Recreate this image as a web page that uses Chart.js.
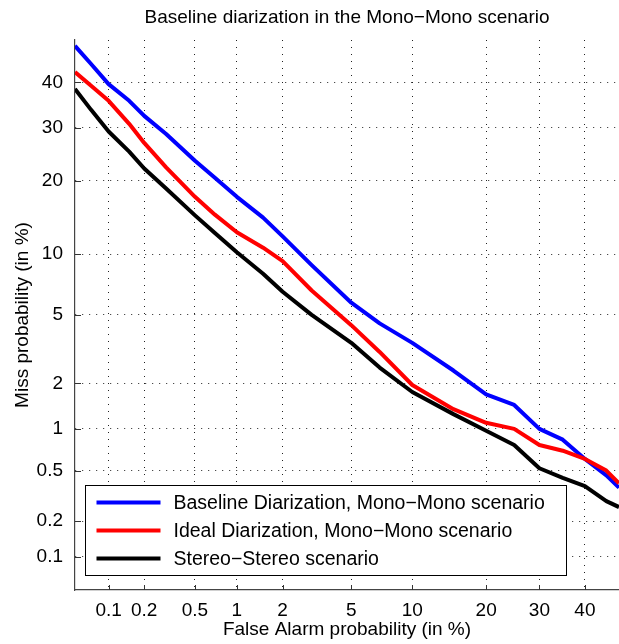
<!DOCTYPE html>
<html>
<head>
<meta charset="utf-8">
<title>DET curve</title>
<script src="https://cdn.jsdelivr.net/npm/chart.js@4.4.1/dist/chart.umd.min.js"></script>
<style>
  html, body { margin: 0; padding: 0; background: #fff; overflow: hidden; }
  #container { width: 619px; height: 644px; position: relative; }
</style>
</head>
<body>
<div id="container"><canvas id="detChart"></canvas></div>
<script>
// False alarm probabilities (in %) where the curves were read
const falseAlarm = [0.05, 0.07, 0.1, 0.15, 0.2, 0.3, 0.5, 0.7, 1, 1.5, 2, 3, 5, 7, 10, 15, 20, 25, 30, 35, 40, 45, 48];

// Miss probabilities (in %) for each system
const baselineMiss = [48.6, 44.3, 39.6, 35.8, 32.5, 28.7, 23.5, 20.5, 17.4, 14.4, 12.0, 8.9, 5.8, 4.5, 3.5, 2.4, 1.7, 1.45, 1.0, 0.84, 0.61, 0.46, 0.37];
const idealMiss = [42.4, 39.2, 35.8, 30.8, 26.9, 22.3, 17.4, 14.8, 12.5, 10.7, 9.3, 6.7, 4.4, 3.1, 1.95, 1.36, 1.10, 1.0, 0.77, 0.70, 0.61, 0.50, 0.40];
const stereoMiss = [38.5, 33.8, 29.2, 25.2, 22.1, 18.7, 14.7, 12.4, 10.2, 8.1, 6.6, 5.0, 3.5, 2.5, 1.76, 1.26, 0.97, 0.77, 0.52, 0.44, 0.38, 0.29, 0.26];

const seriesLabels = [
  "Baseline Diarization, Mono\u2212Mono scenario",
  "Ideal Diarization, Mono\u2212Mono scenario",
  "Stereo\u2212Stereo scenario"
];
const seriesColors = ["#0000ff", "#ff0000", "#000000"];

// Tick labels for both axes
const xTicks = [0.1, 0.2, 0.5, 1, 2, 5, 10, 20, 30, 40];
const yTicks = [0.1, 0.2, 0.5, 1, 2, 5, 10, 20, 30, 40];

const FONT = "'Liberation Sans', Arial, Helvetica, sans-serif";

// inverse of the standard normal CDF (Acklam)
function probit(p) {
  var a = [-3.969683028665376e+01, 2.209460984245205e+02, -2.759285104469687e+02, 1.383577518672690e+02, -3.066479806614716e+01, 2.506628277459239e+00];
  var b = [-5.447609879822406e+01, 1.615858368580409e+02, -1.556989798598866e+02, 6.680131188771972e+01, -1.328068155288572e+01];
  var c = [-7.784894002430293e-03, -3.223964580411365e-01, -2.400758277161838e+00, -2.549671348283278e+00, 4.374664141464968e+00, 2.938163982698783e+00];
  var d = [7.784695709041462e-03, 3.224671290700398e-01, 2.445134137142996e+00, 3.754408661907416e+00];
  var plow = 0.02425;
  var q, r;
  if (p < plow) {
    q = Math.sqrt(-2 * Math.log(p));
    return (((((c[0]*q+c[1])*q+c[2])*q+c[3])*q+c[4])*q+c[5]) / ((((d[0]*q+d[1])*q+d[2])*q+d[3])*q+1);
  }
  if (p <= 1 - plow) {
    q = p - 0.5;
    r = q * q;
    return (((((a[0]*r+a[1])*r+a[2])*r+a[3])*r+a[4])*r+a[5])*q / (((((b[0]*r+b[1])*r+b[2])*r+b[3])*r+b[4])*r+1);
  }
  q = Math.sqrt(-2 * Math.log(1 - p));
  return -(((((c[0]*q+c[1])*q+c[2])*q+c[3])*q+c[4])*q+c[5]) / ((((d[0]*q+d[1])*q+d[2])*q+d[3])*q+1);
}

// normal deviate scale, values given in percent
class ProbitScale extends Chart.Scale {
  determineDataLimits() {
    this.min = this.options.min;
    this.max = this.options.max;
  }
  buildTicks() {
    return this.options.tickValues.map(function (v) { return { value: v }; });
  }
  getLabelForValue(value) {
    return String(value);
  }
  configure() {
    super.configure();
    this._zMin = probit(this.min / 100);
    this._zRange = probit(this.max / 100) - this._zMin;
  }
  getPixelForValue(value) {
    if (value === null || value === undefined || isNaN(value)) return NaN;
    return this.getPixelForDecimal((probit(value / 100) - this._zMin) / this._zRange);
  }
  getValueForPixel(pixel) {
    return this.min + this.getDecimalForPixel(pixel) * (this.max - this.min);
  }
}
ProbitScale.id = "probit";
ProbitScale.defaults = {};
Chart.register(ProbitScale);

function makePoints(ys) {
  return falseAlarm.map(function (x, i) { return { x: x, y: ys[i] }; });
}

// inward tick marks like matlab
const innerTicks = {
  id: "innerTicks",
  afterDraw(chart) {
    const ctx = chart.ctx;
    const area = chart.chartArea;
    const xs = chart.scales.x, ys = chart.scales.y;
    ctx.save();
    ctx.strokeStyle = "#333";
    ctx.lineWidth = 1;
    ctx.beginPath();
    xs.ticks.forEach(function (t) {
      var px = Math.round(xs.getPixelForValue(t.value)) + 0.5;
      ctx.moveTo(px, area.bottom);
      ctx.lineTo(px, area.bottom - 5);
    });
    ys.ticks.forEach(function (t) {
      var py = Math.round(ys.getPixelForValue(t.value)) + 0.5;
      ctx.moveTo(area.left, py);
      ctx.lineTo(area.left + 6, py);
    });
    ctx.stroke();
    ctx.restore();
  }
};

// legend box drawn inside the plot, lower left
const boxLegend = {
  id: "boxLegend",
  afterDraw(chart) {
    const ctx = chart.ctx;
    const area = chart.chartArea;
    const left = area.left + 10.5;
    const top = area.bottom - 104.5;
    const w = 481, h = 90;
    ctx.save();
    ctx.fillStyle = "#fff";
    ctx.fillRect(left, top, w, h);
    ctx.strokeStyle = "#000";
    ctx.lineWidth = 1;
    ctx.strokeRect(left, top, w, h);
    ctx.font = "19.5px " + FONT;
    ctx.textBaseline = "middle";
    ctx.textAlign = "left";
    chart.data.datasets.forEach(function (ds, i) {
      var y = top + 17 + i * 28;
      ctx.strokeStyle = ds.borderColor;
      ctx.lineWidth = 4;
      ctx.beginPath();
      ctx.moveTo(left + 11, y);
      ctx.lineTo(left + 75, y);
      ctx.stroke();
      ctx.fillStyle = "#000";
      ctx.fillText(ds.label, left + 88, y + 1.5);
    });
    ctx.restore();
  }
};

const ctx = document.getElementById("detChart").getContext("2d");
new Chart(ctx, {
  type: "line",
  data: {
    datasets: [
      { label: seriesLabels[0], data: makePoints(baselineMiss), borderColor: seriesColors[0], order: 3 },
      { label: seriesLabels[1], data: makePoints(idealMiss), borderColor: seriesColors[1], order: 2 },
      { label: seriesLabels[2], data: makePoints(stereoMiss), borderColor: seriesColors[2], order: 1 }
    ]
  },
  options: {
    responsive: true,
    maintainAspectRatio: false,
    animation: false,
    devicePixelRatio: 1,
    layout: { padding: 0 },
    elements: {
      line: { borderWidth: 4, tension: 0, fill: false, borderCapStyle: "butt", borderJoinStyle: "round" },
      point: { radius: 0, hoverRadius: 0 }
    },
    plugins: {
      legend: { display: false },
      tooltip: { enabled: false },
      title: {
        display: true,
        fullSize: false,
        text: "Baseline diarization in the Mono\u2212Mono scenario",
        color: "#000",
        font: { family: FONT, size: 19, weight: "normal", lineHeight: 1.2 },
        padding: { top: 6, bottom: 11.2 }
      }
    },
    scales: {
      x: {
        type: "probit",
        position: "bottom",
        min: 0.05,
        max: 48,
        tickValues: xTicks,
        afterFit: function (scale) { scale.height = 54; },
        border: { display: true, color: "#444", width: 1.2, dash: [1, 6] },
        grid: { color: "#222", lineWidth: 1, drawTicks: false },
        ticks: {
          autoSkip: false,
          maxRotation: 0,
          padding: 9,
          color: "#000",
          font: { family: FONT, size: 19 },
          callback: function (v) { return String(v); }
        },
        title: {
          display: true,
          text: "False Alarm probability (in %)",
          color: "#000",
          font: { family: FONT, size: 19, lineHeight: 1.2 },
          padding: { top: 0, bottom: 2.6 }
        }
      },
      y: {
        type: "probit",
        position: "left",
        min: 0.05,
        max: 50,
        tickValues: yTicks,
        afterFit: function (scale) { scale.width = 75; },
        border: { display: true, color: "#444", width: 1.2, dash: [1, 6] },
        grid: { color: "#222", lineWidth: 1, drawTicks: false },
        ticks: {
          autoSkip: false,
          padding: 12,
          color: "#000",
          font: { family: FONT, size: 19 },
          callback: function (v) { return String(v); }
        },
        title: {
          display: true,
          text: "Miss probability (in %)",
          color: "#000",
          font: { family: FONT, size: 19, lineHeight: 1.2 },
          padding: { top: 11, bottom: 0 }
        }
      }
    }
  },
  plugins: [innerTicks, boxLegend]
});
</script>
</body>
</html>
